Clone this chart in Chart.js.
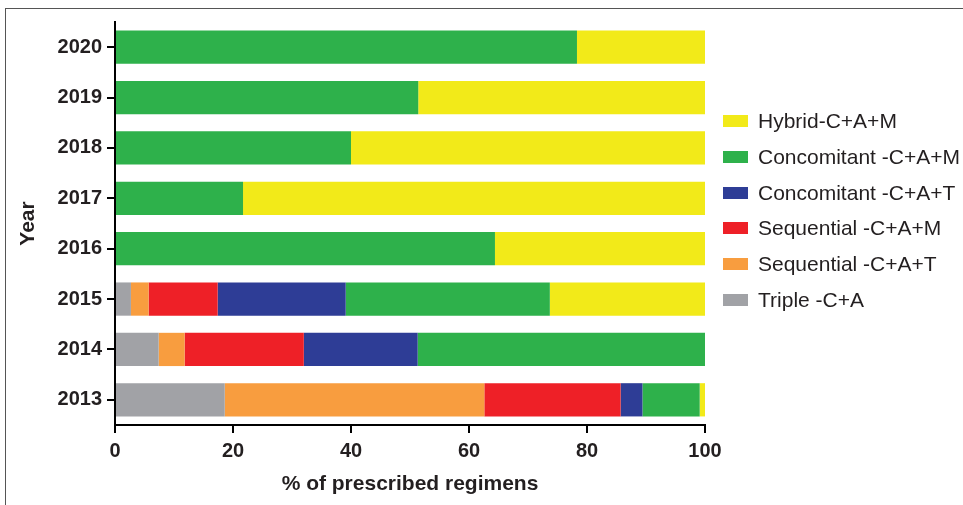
<!DOCTYPE html>
<html>
<head>
<meta charset="utf-8">
<script src="https://cdn.jsdelivr.net/npm/chart.js@4"></script>
<style>
  html, body { margin:0; padding:0; background:#fff; }
  #wrap { position:relative; width:963px; height:505px; overflow:hidden; font-family:"Liberation Sans", Arial, sans-serif; }
  #frame { position:absolute; left:5px; top:8px; right:-2px; bottom:-2px; border-top:1.5px solid #555; border-left:1.5px solid #555; }
  #legend { position:absolute; left:723px; top:0; }
  .item { position:absolute; left:0; white-space:nowrap; font-size:21px; color:#231f20; line-height:22px; }
  .item span.box { position:absolute; left:0; top:5px; width:25px; height:12px; }
  .item span.txt { position:absolute; left:35px; top:0; }
</style>
</head>
<body>
<div id="wrap">
  <div id="frame"></div>
  <canvas id="chart" width="963" height="505"></canvas>
  <div id="legend"></div>
</div>
<script>
const years = ["2020","2019","2018","2017","2016","2015","2014","2013"];
const xTicks = [0, 20, 40, 60, 80, 100];

// % of prescribed regimens per year (same order as years)
const triple      = [0, 0, 0, 0, 0, 2.7, 7.4, 18.6];
const seqCAT      = [0, 0, 0, 0, 0, 3.0, 4.4, 44.0];
const seqCAM      = [0, 0, 0, 0, 0, 11.7, 20.2, 23.1];
const concCAT     = [0, 0, 0, 0, 0, 21.7, 19.3, 3.7];
const concCAM     = [78.3, 51.4, 40.0, 21.7, 64.4, 34.6, 48.7, 9.7];
const hybridCAM   = [21.7, 48.6, 60.0, 78.3, 35.6, 26.3, 0, 0.9];

const seriesNames  = ["Triple -C+A", "Sequential -C+A+T", "Sequential -C+A+M", "Concomitant -C+A+T", "Concomitant -C+A+M", "Hybrid-C+A+M"];
const seriesData   = [triple, seqCAT, seqCAM, concCAT, concCAM, hybridCAM];
const seriesColors = ["#a1a2a6", "#f89d3f", "#ee2027", "#2e3d96", "#2eb14b", "#f2ea19"];

const FONT = "'Liberation Sans', Arial, sans-serif";
const INK = "#231f20";

const datasets = seriesNames.map((name, i) => ({
  label: name,
  data: seriesData[i],
  backgroundColor: seriesColors[i],
  borderWidth: 0,
  barPercentage: 0.66,
  categoryPercentage: 1.0
}));

new Chart(document.getElementById("chart"), {
  type: "bar",
  data: { labels: years, datasets },
  options: {
    indexAxis: "y",
    responsive: false,
    animation: false,
    layout: { padding: { top: 22, right: 258, left: 0, bottom: 0 } },
    plugins: { legend: { display: false }, tooltip: { enabled: false } },
    scales: {
      x: {
        stacked: true,
        min: 0, max: 100,
        afterBuildTicks: (s) => { s.ticks = xTicks.map(v => ({ value: v })); },
        afterFit: (s) => { s.height = 80; },
        border: { color: "#000", width: 2 },
        grid: { drawOnChartArea: false, color: "#000", lineWidth: 2, tickLength: 8 },
        ticks: { color: INK, padding: 6, font: { family: FONT, size: 20, weight: "bold" } },
        title: { display: true, text: "% of prescribed regimens", color: INK,
                 font: { family: FONT, size: 21, weight: "bold" }, padding: { top: 0, bottom: 8 } }
      },
      y: {
        stacked: true,
        afterFit: (s) => { s.width = 115; },
        border: { color: "#000", width: 2 },
        grid: { offset: false, drawOnChartArea: false, color: "#000", lineWidth: 2, tickLength: 8 },
        ticks: { color: INK, padding: 5, font: { family: FONT, size: 20, weight: "bold" } },
        title: { display: true, text: "Year", color: INK,
                 font: { family: FONT, size: 21, weight: "bold" }, padding: { top: 16, bottom: 0 } }
      }
    }
  }
});

// legend, top to bottom is the reverse of stacking order
const legendY = [121, 157, 193, 228, 264, 300];
const legend = document.getElementById("legend");
seriesNames.slice().reverse().forEach((name, k) => {
  const i = seriesNames.length - 1 - k;
  const d = document.createElement("div");
  d.className = "item";
  d.style.top = (legendY[k] - 11) + "px";
  d.innerHTML = `<span class="box" style="background:${seriesColors[i]}"></span><span class="txt">${name}</span>`;
  legend.appendChild(d);
});
</script>
</body>
</html>
